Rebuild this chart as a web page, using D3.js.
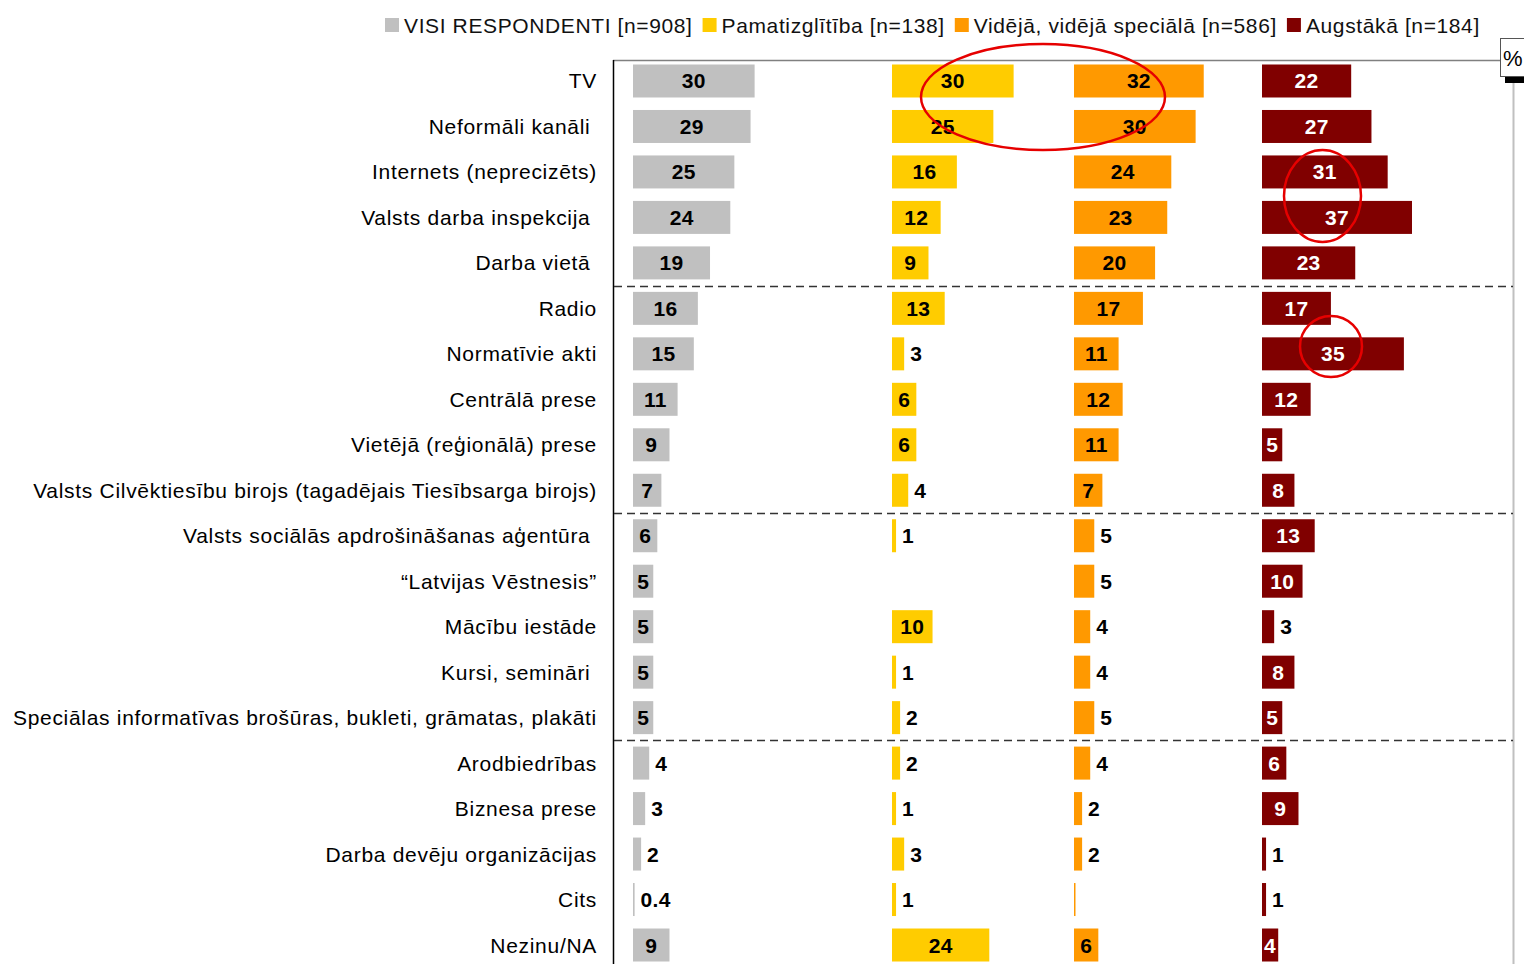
<!DOCTYPE html>
<html>
<head>
<meta charset="utf-8">
<script src="https://cdn.jsdelivr.net/npm/d3@7"></script>
<style>
  body { margin: 0; background: #ffffff; }
  svg { font-family: Arial, "Liberation Sans", sans-serif; }
  .cat-label { font-size: 21px; letter-spacing: 0.7px; fill: #000000; white-space: pre; }
  .val-label { font-size: 21px; font-weight: bold; letter-spacing: 0.3px; }
  .legend-text { font-size: 21px; letter-spacing: 0.62px; fill: #111111; }
</style>
</head>
<body>
<svg id="chart" width="1524" height="964"></svg>
<script>
// chart data
const categories = [
  "TV", "Neformāli kanāli ", "Internets (neprecizēts)", "Valsts darba inspekcija ", "Darba vietā ",
  "Radio", "Normatīvie akti", "Centrālā prese", "Vietējā (reģionālā) prese",
  "Valsts Cilvēktiesību birojs (tagadējais Tiesībsarga birojs)",
  "Valsts sociālās apdrošināšanas aģentūra ", "“Latvijas Vēstnesis”", "Mācību iestāde", "Kursi, semināri ",
  "Speciālas informatīvas brošūras, bukleti, grāmatas, plakāti",
  "Arodbiedrības", "Biznesa prese", "Darba devēju organizācijas", "Cits", "Nezinu/NA"
];
const seriesNames = [
  "VISI RESPONDENTI [n=908]", "Pamatizglītība [n=138]",
  "Vidējā, vidējā speciālā [n=586]", "Augstākā [n=184]"
];
const visi      = [30, 29, 25, 24, 19, 16, 15, 11, 9, 7, 6, 5, 5, 5, 5, 4, 3, 2, 0.4, 9];
const pamat     = [30, 25, 16, 12, 9, 13, 3, 6, 6, 4, 1, null, 10, 1, 2, 2, 1, 3, 1, 24];
const videja    = [32, 30, 24, 23, 20, 17, 11, 12, 11, 7, 5, 5, 4, 4, 5, 4, 2, 2, 0.3, 6];
const augstaka  = [22, 27, 31, 37, 23, 17, 35, 12, 5, 8, 13, 10, 3, 8, 5, 6, 9, 1, 1, 4];
const allSeries = [visi, pamat, videja, augstaka];

const colors = ["#C0C0C0", "#FFCC00", "#FF9900", "#800000"];
const labelColors = ["#000000", "#000000", "#000000", "#ffffff"];
const insideMin = [5, 6, 6, 4];           // smallest value whose label sits inside the bar
const columnStart = [633, 892, 1074, 1262];
const separatorsAfter = [4, 9, 14];

const svg = d3.select("#chart");

const yScale = d3.scaleBand()
                .domain(categories)
                .range([58.26, 967.74])
                .padding(0);
const step = yScale.step();
const barH = 33;

const xScale = d3.scaleLinear()
                .domain([0, 37])
                .range([0, 150]);

// frame
svg.append("line")
    .attr("x1", 613).attr("x2", 1500).attr("y1", 60.5).attr("y2", 60.5)
    .attr("stroke", "#808080").attr("stroke-width", 1.5);
svg.append("line")
    .attr("x1", 613.5).attr("x2", 613.5).attr("y1", 60).attr("y2", 964)
    .attr("stroke", "#000000").attr("stroke-width", 1.5);
svg.append("line")
    .attr("x1", 1513.5).attr("x2", 1513.5).attr("y1", 82).attr("y2", 964)
    .attr("stroke", "#c0c0c0").attr("stroke-width", 2);

// "%" box
svg.append("rect")
    .attr("x", 1500.5).attr("y", 38.5).attr("width", 30).attr("height", 38)
    .attr("fill", "#ffffff").attr("stroke", "#555555").attr("stroke-width", 1);
svg.append("text")
    .attr("x", 1503).attr("y", 66)
    .attr("font-size", "22px")
    .text("%");
svg.append("rect")
    .attr("x", 1505).attr("y", 77).attr("width", 19).attr("height", 6)
    .attr("fill", "#000000");

// dashed separators
svg.selectAll(".sep")
    .data(separatorsAfter)
    .join("line")
    .attr("class", "sep")
    .attr("x1", 614).attr("x2", 1513)
    .attr("y1", d => Math.round(yScale(categories[d + 1])) + 0.5)
    .attr("y2", d => Math.round(yScale(categories[d + 1])) + 0.5)
    .attr("stroke", "#333333").attr("stroke-width", 1.3)
    .attr("stroke-dasharray", "8,5");

// category labels
svg.selectAll(".cat-label")
    .data(categories)
    .join("text")
    .attr("class", "cat-label")
    .attr("x", 597)
    .attr("y", d => yScale(d) + step / 2 + 7.5)
    .attr("text-anchor", "end")
    .text(d => d);

// bars + value labels
allSeries.forEach((values, s) => {
    const rows = values.map((v, i) => ({ cat: categories[i], v: v })).filter(d => d.v !== null);
    const g = svg.append("g");

    g.selectAll("rect")
        .data(rows)
        .join("rect")
        .attr("x", columnStart[s])
        .attr("y", d => yScale(d.cat) + step / 2 - barH / 2)
        .attr("width", d => Math.max(xScale(d.v), 1.5))
        .attr("height", barH)
        .attr("fill", colors[s]);

    g.selectAll("text")
        .data(rows.filter(d => d.v >= 0.4))
        .join("text")
        .attr("class", "val-label")
        .attr("x", d => d.v >= insideMin[s]
                        ? columnStart[s] + xScale(d.v) / 2
                        : columnStart[s] + xScale(d.v) + 6)
        .attr("y", d => yScale(d.cat) + step / 2 + 7.5)
        .attr("text-anchor", d => d.v >= insideMin[s] ? "middle" : "start")
        .attr("fill", d => d.v >= insideMin[s] ? labelColors[s] : "#000000")
        .text(d => d.v);
});

// legend
const legend = svg.append("g");
let lx = 385;
seriesNames.forEach((name, i) => {
    legend.append("rect")
        .attr("x", lx).attr("y", 18).attr("width", 14).attr("height", 14)
        .attr("fill", colors[i]);
    const t = legend.append("text")
        .attr("class", "legend-text")
        .attr("x", lx + 19).attr("y", 33)
        .text(name);
    lx += 19 + t.node().getComputedTextLength() + 10;
});

// red highlight ellipses
const highlights = [
    { cx: 1043, cy: 97, rx: 122, ry: 53 },
    { cx: 1322.5, cy: 196, rx: 38.5, ry: 46 },
    { cx: 1331, cy: 346.5, rx: 31, ry: 30.5 }
];
svg.selectAll(".mark")
    .data(highlights)
    .join("ellipse")
    .attr("class", "mark")
    .attr("cx", d => d.cx).attr("cy", d => d.cy)
    .attr("rx", d => d.rx).attr("ry", d => d.ry)
    .attr("fill", "none")
    .attr("stroke", "#e60000")
    .attr("stroke-width", 2.5);
</script>
</body>
</html>
